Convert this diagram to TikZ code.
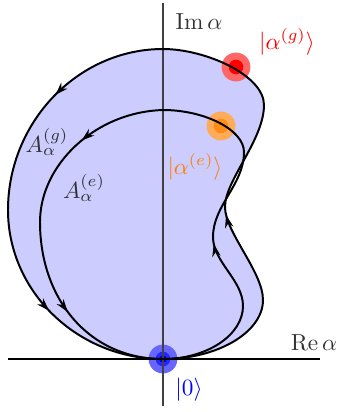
\documentclass[tikz,border=0pt]{standalone}
\usetikzlibrary{decorations.markings,arrows.meta}
\begin{document}
\begin{tikzpicture}[x=0.43pt,y=-0.43pt,
  outercurve/.style={line width=0.85pt, postaction={decorate}, decoration={markings,
    mark=at position 0.232 with {\arrow{Stealth[length=5.5pt,width=3.6pt]}},
    mark=at position 0.614 with {\arrow{Stealth[length=5.5pt,width=3.6pt]}},
    mark=at position 0.866 with {\arrow{Stealth[length=5.5pt,width=3.6pt]}}}},
  innercurve/.style={line width=0.85pt, postaction={decorate}, decoration={markings,
    mark=at position 0.230 with {\arrow{Stealth[length=5.5pt,width=3.6pt]}},
    mark=at position 0.605 with {\arrow{Stealth[length=5.5pt,width=3.6pt]}},
    mark=at position 0.855 with {\arrow{Stealth[length=5.5pt,width=3.6pt]}}}},
  axislbl/.style={text=black!80, inner sep=0pt},
  dotouter/.style={circle, inner sep=0pt, minimum size=12.4pt},
  dotinner/.style={circle, inner sep=0pt, minimum size=6.3pt},
  dotcore/.style={circle, inner sep=0pt, minimum size=3.2pt},
]
\useasboundingbox (0,0) rectangle (337,412);
\coordinate (O) at (163,359);
% filled region
\fill[blue!20] (O) .. controls (218,359) and (263,332) .. (263,300)
  .. controls (263,272) and (225,232) .. (225,207)
  .. controls (225,180) and (264,140) .. (264,105)
  .. controls (264,75) and (205,49) .. (163,49)
  .. controls (78,49) and (8,122) .. (8,210)
  .. controls (8,292) and (78,359) .. (O) -- cycle;
% dots
\node[dotouter, fill=red!60] (gdot) at (236,67) {};
\node[dotinner, fill=red] (gdotin) at (236,67) {};
\node[dotouter, fill=orange!65] (edot) at (221,126) {};
\node[dotinner, fill=orange!90] (edotin) at (221,126) {};
\node[dotouter, fill=blue!60] (odot) at (O) {};
\node[dotinner, fill=blue!85] (odotin) at (O) {};
\node[dotcore, fill=blue!80!black] (odotcore) at (O) {};
% axes
\coordinate (ytop) at (163,3);
\coordinate (ybot) at (163,406);
\coordinate (xleft) at (8,359);
\coordinate (xright) at (320,359);
\draw[black!75, line width=0.5pt] (ybot) -- (ytop);
\draw[black, line width=0.5pt] (xleft) -- (xright);
% curves
\draw[outercurve] (O) .. controls (218,359) and (263,332) .. (263,300)
  .. controls (263,272) and (225,232) .. (225,207)
  .. controls (225,180) and (264,140) .. (264,105)
  .. controls (264,75) and (205,49) .. (163,49)
  .. controls (78,49) and (8,122) .. (8,210)
  .. controls (8,292) and (78,359) .. (O);
\draw[innercurve] (O) .. controls (207,359) and (243,335) .. (243,306)
  .. controls (243,280) and (213,262) .. (213,237)
  .. controls (213,205) and (244,185) .. (244,152)
  .. controls (244,130) and (205,110) .. (163,110)
  .. controls (95,112) and (40,165) .. (40,222)
  .. controls (40,300) and (90,359) .. (O);
% labels
\node[axislbl] (imlbl) at (199,22) {$\mathrm{Im}\,\alpha$};
\node[axislbl] (relbl) at (314,343) {$\mathrm{Re}\,\alpha$};
\node[text=red, inner sep=0pt] (glbl) at (287,42) {$|\alpha^{(g)}\rangle$};
\node[text=orange, inner sep=0pt] (elbl) at (195,167) {$|\alpha^{(e)}\rangle$};
\node[text=blue, inner sep=0pt] (olbl) at (189,390) {$|0\rangle$};
\node[axislbl] (Aglbl) at (47,142) {$A_\alpha^{(g)}$};
\node[axislbl] (Aelbl) at (84,188) {$A_\alpha^{(e)}$};
\end{tikzpicture}
\end{document}
